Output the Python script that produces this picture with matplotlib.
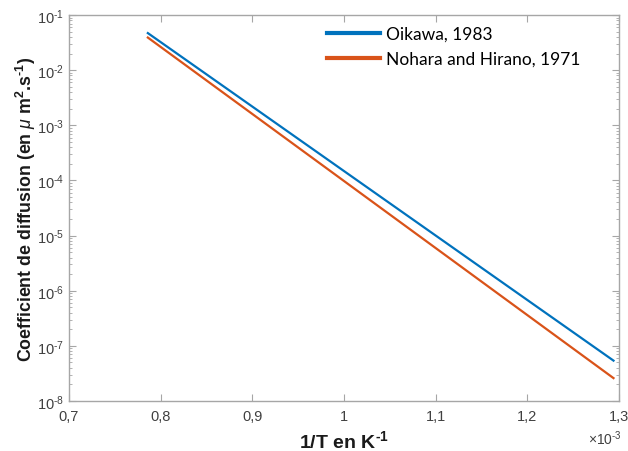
import matplotlib
matplotlib.use("Agg")
import matplotlib.pyplot as plt
from matplotlib.ticker import FuncFormatter, LogLocator, FixedLocator, NullFormatter
import numpy as np

# Data (1/T in K^-1, D in µm².s⁻¹)
inv_T_oikawa = [0.786e-3, 1.294e-3]
D_oikawa = [4.7e-2, 5.4e-8]
inv_T_nohara = [0.786e-3, 1.294e-3]
D_nohara = [3.9e-2, 2.6e-8]
labels = ["Oikawa, 1983", "Nohara and Hirano, 1971"]
x_ticks = [0.7e-3, 0.8e-3, 0.9e-3, 1.0e-3, 1.1e-3, 1.2e-3, 1.3e-3]

plt.rcParams['font.family'] = ['Liberation Sans', 'DejaVu Sans']
plt.rcParams['mathtext.fontset'] = 'custom'
plt.rcParams['mathtext.rm'] = 'Liberation Sans'
plt.rcParams['mathtext.it'] = 'Liberation Sans:italic'
plt.rcParams['mathtext.bf'] = 'Liberation Sans:bold'
plt.rcParams['mathtext.default'] = 'regular'
plt.rcParams['axes.unicode_minus'] = False

HY = '\u2010'

fig = plt.figure(figsize=(6.28, 4.52), dpi=100)
ax = fig.add_axes([69/628, 50/452, 550/628, 386/452])

blue = '#0072BD'
orange = '#D95319'
l1, = ax.semilogy(inv_T_oikawa, D_oikawa, color=blue, lw=1.6)
l2, = ax.semilogy(inv_T_nohara, D_nohara, color=orange, lw=1.6)

ax.set_xlim(0.7e-3, 1.3e-3)
ax.set_ylim(1e-8, 1e-1)

ax.xaxis.set_major_locator(FixedLocator(x_ticks))
ax.xaxis.set_major_formatter(FuncFormatter(lambda v, p: ('%g' % round(v*1e3, 3)).replace('.', ',')))
ax.yaxis.set_major_locator(LogLocator(base=10, numticks=20))
ax.yaxis.set_minor_locator(LogLocator(base=10, subs=np.arange(2, 10), numticks=20))
ax.yaxis.set_minor_formatter(NullFormatter())
ax.yaxis.set_major_formatter(FuncFormatter(
    lambda v, p: '10$^{' + HY + '%d}$' % abs(int(round(np.log10(v))))))

spine_col = '#a6a6a6'
for s in ax.spines.values():
    s.set_color(spine_col)
    s.set_linewidth(1.0)
ax.tick_params(which='both', direction='in', top=True, right=True, color=spine_col,
               labelcolor='#404040', labelsize=10.5)
ax.tick_params(which='major', length=5, width=0.8)
ax.tick_params(which='minor', length=2.5, width=0.6)
ax.tick_params(axis='x', pad=6)

ax.set_xlabel('1/T en K$^{' + HY + '1}$', fontsize=14, fontweight='bold', color='#1a1a1a', labelpad=4)
ax.set_ylabel('Coefficient de diffusion (en $\\mathit{\\mu}$ m$^{2}$.s$^{' + HY + '1}$)', fontsize=12.8,
              fontweight='bold', color='#1a1a1a', labelpad=-1)

ax.text(1.005, -0.095, '$\\times$10$^{' + HY + '3}$', transform=ax.transAxes, ha='right', va='center',
        fontsize=10, color='#404040')

leg = ax.legend([l1, l2], labels, loc='upper left', bbox_to_anchor=(0.44, 1.012),
                frameon=False, handlelength=3.1, handletextpad=0.3,
                labelspacing=0.5, prop={'family': 'Lato', 'size': 12.5})
for h in leg.get_lines():
    h.set_linewidth(3)

fig.savefig('out.png', dpi=100)
